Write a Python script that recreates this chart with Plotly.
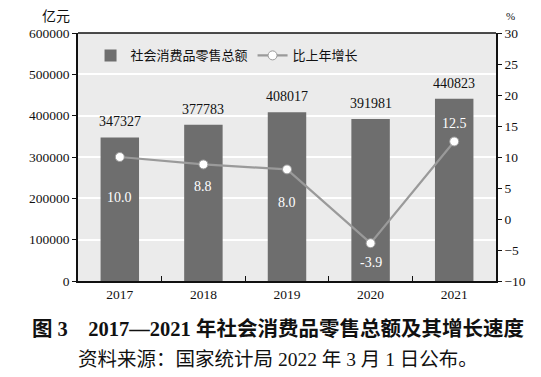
import plotly.graph_objects as go

years = ["2017", "2018", "2019", "2020", "2021"]
sales = [347327, 377783, 408017, 391981, 440823]
growth = [10.0, 8.8, 8.0, -3.9, 12.5]
growth_labels = ["10.0", "8.8", "8.0", "-3.9", "12.5"]
label_shift = [-40, -22, -33, -19, 18]

SERIF = "Liberation Serif, Noto Sans CJK SC, serif"

fig = go.Figure()
fig.add_trace(go.Bar(
    x=years, y=sales, name="社会消费品零售总额",
    marker=dict(color="#6e6e6e", line=dict(width=0)),
    width=0.46,
))
fig.add_trace(go.Scatter(
    x=years, y=growth, name="比上年增长", yaxis="y2", mode="lines+markers",
    line=dict(color="#9a9a9a", width=2.2),
    marker=dict(symbol="circle", size=9, color="white", line=dict(color="#9a9a9a", width=1)),
))

# bar value labels (category index positions)
for i, v in enumerate(sales):
    fig.add_annotation(x=i, y=v, xref="x", yref="y", text=str(v), showarrow=False,
                       yanchor="bottom", yshift=6,
                       font=dict(family=SERIF, size=14, color="#111"))

for i, (v, t, s) in enumerate(zip(growth, growth_labels, label_shift)):
    fig.add_annotation(x=i, y=v, xref="x", yref="y2", text=t, showarrow=False, yshift=s,
                       font=dict(family=SERIF, size=14, color="white"))

fig.add_annotation(x=-0.015, y=1.0, xref="paper", yref="paper", text="亿元", showarrow=False,
                   xanchor="right", yanchor="bottom", yshift=7,
                   font=dict(family=SERIF, size=14, color="#111"))
fig.add_annotation(x=1.02, y=1.0, xref="paper", yref="paper", text="%", showarrow=False,
                   xanchor="left", yanchor="bottom", yshift=9,
                   font=dict(family=SERIF, size=11, color="#111"))
fig.add_annotation(x=0.478, y=-0.14, xref="paper", yref="paper", yanchor="top",
                   text="<b>图 3　2017—2021 年社会消费品零售总额及其增长速度</b>", showarrow=False,
                   font=dict(family=SERIF, size=20.5, color="#111"))
fig.add_annotation(x=0.478, y=-0.268, xref="paper", yref="paper", yanchor="top",
                   text="资料来源：国家统计局 2022 年 3 月 1 日公布。", showarrow=False,
                   font=dict(family=SERIF, size=19.5, color="#111"))

fig.update_layout(
    width=541, height=377,
    margin=dict(l=70, r=53, t=25, b=104),
    paper_bgcolor="white", plot_bgcolor="#ebebeb",
    font=dict(family=SERIF, size=13, color="#111"),
    showlegend=True,
    legend=dict(orientation="h", x=0.03, y=0.97, xanchor="left", yanchor="top",
                bgcolor="rgba(0,0,0,0)", font=dict(size=13)),
    xaxis=dict(type="category", range=[-0.5, 4.5], showline=True, linecolor="#111", linewidth=1.5,
               ticks="inside", tickson="boundaries", ticklen=5, tickcolor="#111",
               showgrid=False, mirror=False, tickfont=dict(size=13.5), tickangle=0),
    yaxis=dict(range=[0, 600000], dtick=100000, tickformat="d", showline=True, linecolor="#111", linewidth=1.5,
               ticks="outside", ticklen=4, tickcolor="#111", gridcolor="white", gridwidth=1.5,
               zeroline=False, tickfont=dict(size=13.5), mirror=False),
    yaxis2=dict(range=[-10, 30], dtick=5, overlaying="y", side="right", showline=True,
                linecolor="#111", linewidth=1.5, ticks="outside", ticklen=4, tickcolor="#111",
                showgrid=False, zeroline=False, tickfont=dict(size=13.5)),
    shapes=[dict(type="line", xref="paper", yref="paper", x0=0, x1=1, y0=1, y1=1,
                 line=dict(color="#111", width=1.5))],
)

fig.write_html("out.html")
